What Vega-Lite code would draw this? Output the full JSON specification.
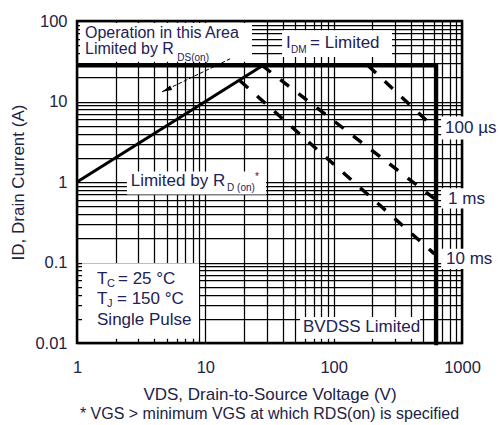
{
  "$schema": "https://vega.github.io/schema/vega-lite/v6.json",
  "width": 385,
  "height": 322,
  "autosize": {"type": "none"},
  "padding": {"left": 77, "top": 21, "right": 38, "bottom": 82},
  "background": "white",
  "config": {
    "view": {"stroke": null},
    "font": "Liberation Sans",
    "text": {"font": "Liberation Sans"}
  },
  "title": {
    "text": "* VGS > minimum VGS at which RDS(on) is specified",
    "orient": "bottom",
    "anchor": "middle",
    "fontSize": 16,
    "fontWeight": "normal",
    "color": "#222244",
    "offset": 3
  },
  "datasets": {
    "frame": [{"x": 1, "x2": 1000, "y": 0.01, "y2": 100}],
    "boxes": [
      {"name": "operation", "x": 1.055, "x2": 23.1, "y": 94.5, "y2": 31.1},
      {"name": "idm", "x": 39.6, "x2": 285, "y": 77, "y2": 35.8},
      {"name": "rdon", "x": 2.45, "x2": 29.7, "y": 1.35, "y2": 0.7},
      {"name": "tc", "x": 1.094, "x2": 8.93, "y": 0.098, "y2": 0.0113},
      {"name": "bvdss", "x": 54.7, "x2": 471, "y": 0.0211, "y2": 0.0113},
      {"name": "100us", "x": 687, "x2": 1982, "y": 6.49, "y2": 3.37},
      {"name": "1ms", "x": 687, "x2": 1900, "y": 0.834, "y2": 0.47},
      {"name": "10ms", "x": 687, "x2": 1900, "y": 0.148, "y2": 0.083}
    ],
    "limit": [
      {"i": 0, "x": 1, "y": 28},
      {"i": 1, "x": 630, "y": 28},
      {"i": 2, "x": 630, "y": 0.0094}
    ],
    "rds": [{"x": 1, "y": 1}, {"x": 28, "y": 28}],
    "pulses": [
      {"s": "100 µs", "x": 185, "y": 28},
      {"s": "100 µs", "x": 610, "y": 4.7},
      {"s": "1 ms", "x": 27.7, "y": 28},
      {"s": "1 ms", "x": 610, "y": 0.62},
      {"s": "10 ms", "x": 18.6, "y": 18.1},
      {"s": "10 ms", "x": 610, "y": 0.128}
    ],
    "arrow": [{"x": 15.6, "y": 33.9}, {"x": 4.6, "y": 13.2}],
    "arrowhead": [{"x": 4.6, "y": 13.2}],
    "labels": [
      {"text": "I", "x": 42.6, "y": 53},
      {"text": "= Limited", "x": 65.5, "y": 53},
      {"text": "Limited by R", "x": 2.62, "y": 1.017},
      {"text": "T", "x": 1.432, "y": 0.0623},
      {"text": "= 25 °C", "x": 2.087, "y": 0.0623},
      {"text": "T", "x": 1.432, "y": 0.0352},
      {"text": "= 150 °C", "x": 2.05, "y": 0.0352},
      {"text": "Single Pulse", "x": 1.432, "y": 0.01937},
      {"text": "BVDSS Limited", "x": 57.7, "y": 0.01585},
      {"text": "100 µs", "x": 738, "y": 4.74},
      {"text": "1 ms", "x": 779, "y": 0.609},
      {"text": "10 ms", "x": 751, "y": 0.11}
    ],
    "toplabels": [
      {"text": "Operation in this Area", "x": 1.154, "y": 70.5},
      {"text": "Limited by R", "x": 1.154, "y": 44.7}
    ],
    "subs": [
      {"text": "DS(on)", "x": 6.05, "y": 34.5},
      {"text": "DM", "x": 46.5, "y": 43.8},
      {"text": "D (on)", "x": 14.77, "y": 0.834},
      {"text": "*", "x": 24.4, "y": 1.17}
    ],
    "subs2": [
      {"text": "C", "x": 1.713, "y": 0.0534},
      {"text": "J", "x": 1.713, "y": 0.0305}
    ]
  },
  "encoding": {
    "x": {
      "field": "x",
      "type": "quantitative",
      "scale": {"type": "log", "domain": [1, 1000], "nice": false},
      "axis": {
        "values": [1, 2, 3, 4, 5, 6, 7, 8, 9, 10, 20, 30, 40, 50, 60, 70, 80, 90, 100, 200, 300, 400, 500, 600, 700, 800, 900, 1000],
        "format": "~g",
        "labelExpr": "indexof(['0.01','0.1','1','10','100','1000'], datum.label) >= 0 ? datum.label : ''",
        "labelOverlap": false,
        "labelFlush": false,
        "labelFontSize": 16.5,
        "labelColor": "#222244",
        "labelPadding": 16,
        "grid": true,
        "gridColor": "black",
        "gridWidth": 1.25,
        "gridOpacity": 1,
        "ticks": false,
        "domain": false,
        "title": "VDS, Drain-to-Source Voltage (V)",
        "titleFontSize": 17,
        "titleFontWeight": "normal",
        "titleColor": "#222244",
        "titlePadding": 11
      }
    },
    "y": {
      "field": "y",
      "type": "quantitative",
      "scale": {"type": "log", "domain": [0.01, 100], "nice": false},
      "axis": {
        "values": [0.01, 0.02, 0.03, 0.04, 0.05, 0.06, 0.07, 0.08, 0.09, 0.1, 0.2, 0.3, 0.4, 0.5, 0.6, 0.7, 0.8, 0.9, 1, 2, 3, 4, 5, 6, 7, 8, 9, 10, 20, 30, 40, 50, 60, 70, 80, 90, 100],
        "format": "~g",
        "labelExpr": "indexof(['0.01','0.1','1','10','100','1000'], datum.label) >= 0 ? datum.label : ''",
        "labelOverlap": false,
        "labelFontSize": 16.5,
        "labelColor": "#222244",
        "labelPadding": 10,
        "grid": true,
        "gridColor": "black",
        "gridWidth": 1.25,
        "gridOpacity": 1,
        "ticks": false,
        "domain": false,
        "title": "ID, Drain Current (A)",
        "titleFontSize": 17,
        "titleFontWeight": "normal",
        "titleColor": "#222244",
        "titlePadding": 7
      }
    }
  },
  "layer": [
    {
      "data": {"name": "frame"},
      "mark": {"type": "rect", "filled": false, "stroke": "black", "strokeWidth": 2.5},
      "encoding": {"x2": {"field": "x2"}, "y2": {"field": "y2"}}
    },
    {
      "data": {"name": "boxes"},
      "mark": {"type": "rect", "fill": "white", "strokeWidth": 0},
      "encoding": {"x2": {"field": "x2"}, "y2": {"field": "y2"}}
    },
    {
      "data": {"name": "limit"},
      "mark": {"type": "line", "color": "black", "strokeWidth": 4, "strokeJoin": "miter"},
      "encoding": {"order": {"field": "i"}}
    },
    {
      "data": {"name": "rds"},
      "mark": {"type": "line", "color": "black", "strokeWidth": 3},
      "encoding": {}
    },
    {
      "data": {"name": "pulses"},
      "mark": {"type": "line", "color": "black", "strokeWidth": 3.4, "strokeDash": [11, 12]},
      "encoding": {"detail": {"field": "s"}}
    },
    {
      "data": {"name": "arrow"},
      "mark": {"type": "line", "color": "black", "strokeWidth": 1, "strokeDash": [4, 2]},
      "encoding": {}
    },
    {
      "data": {"name": "arrowhead"},
      "mark": {"type": "point", "shape": "M0,0L2,-0.5L2,0.5Z", "filled": true, "color": "black", "opacity": 1, "size": 100, "angle": 336, "strokeWidth": 0}
    },
    {
      "data": {"name": "toplabels"},
      "mark": {"type": "text", "align": "left", "baseline": "middle", "fontSize": 16, "color": "#222255"},
      "encoding": {"text": {"field": "text"}}
    },
    {
      "data": {"name": "labels"},
      "mark": {"type": "text", "align": "left", "baseline": "middle", "fontSize": 17, "color": "#222255"},
      "encoding": {"text": {"field": "text"}}
    },
    {
      "data": {"name": "subs"},
      "mark": {"type": "text", "align": "left", "baseline": "middle", "fontSize": 10, "color": "#222255"},
      "encoding": {"text": {"field": "text"}}
    },
    {
      "data": {"name": "subs2"},
      "mark": {"type": "text", "align": "left", "baseline": "middle", "fontSize": 11, "color": "#222255"},
      "encoding": {"text": {"field": "text"}}
    }
  ]
}
